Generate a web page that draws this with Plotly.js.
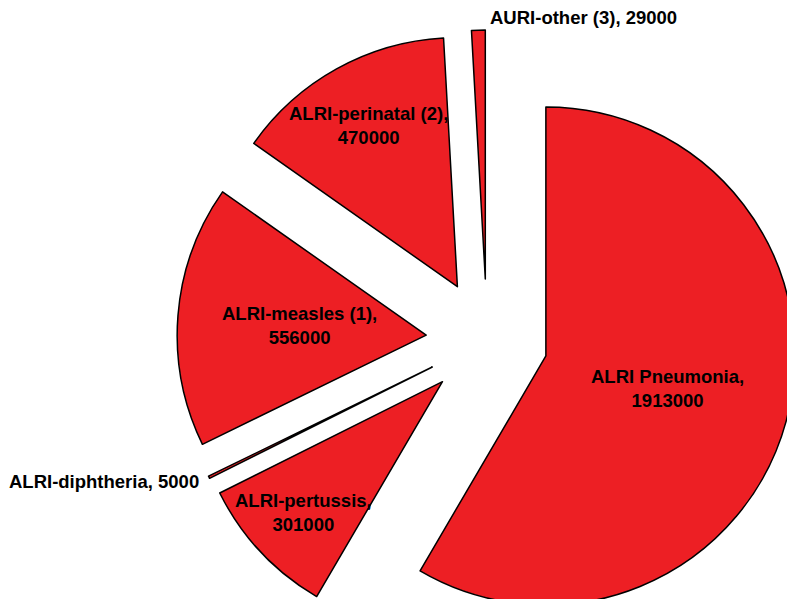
<!DOCTYPE html>
<html>
<head>
<meta charset="utf-8">
<script src="https://cdn.plot.ly/plotly-3.0.1.min.js"></script>
<style>
  html, body { margin: 0; padding: 0; overflow: hidden; background: #fff; width: 787px; height: 599px; }
  #chart { position: absolute; left: 0; top: 0; width: 800px; height: 660px; }
</style>
</head>
<body>
<div id="chart"></div>
<script>
// Data
const labels = ["ALRI Pneumonia", "ALRI-pertussis", "ALRI-diphtheria", "ALRI-measles (1)", "ALRI-perinatal (2)", "AURI-other (3)"];
const values = [1913000, 301000, 5000, 556000, 470000, 29000];
const twoLine = [true, true, false, true, true, false];

// Layout / style constants
const W = 800, H = 660;
const CX = 487, CY = 340;          // pie centre in px (from domain below)
const PULL = 0.245;
const R = 310 / (1 + PULL);        // radius in px
// radial distance of each label from centre (in units of R) and anchoring
const labelDist = [0.75, 1.012, 1.279, 0.754, 0.984, 1.246];
const labelAnchor = [
  { xa: "center", ya: "middle", xs: 0 },
  { xa: "center", ya: "middle", xs: 0 },
  { xa: "right", ya: "middle", xs: 0 },
  { xa: "center", ya: "middle", xs: 0 },
  { xa: "center", ya: "middle", xs: 0 },
  { xa: "left", ya: "bottom", xs: 10 }
];

const total = values.reduce((a, b) => a + b, 0);
const fmt = v => String(v);
let cum = 0;
const annotations = values.map((v, i) => {
  const mid = (cum + v / 2) / total * 2 * Math.PI;
  cum += v;
  const d = labelDist[i] * R;
  const px = CX + d * Math.sin(mid);
  const py = CY - d * Math.cos(mid);
  const a = labelAnchor[i];
  return {
    xref: "paper", yref: "paper",
    x: px / W, y: 1 - py / H,
    xanchor: a.xa, yanchor: a.ya, xshift: a.xs,
    text: labels[i] + "," + (twoLine[i] ? "<br>" : " ") + fmt(v),
    showarrow: false,
    align: "center",
    font: { family: "Liberation Sans, Arial, sans-serif", size: 18.5, color: "#000", weight: "bold" }
  };
});

const trace = {
  type: "pie",
  labels: labels,
  values: values,
  sort: false,
  direction: "clockwise",
  rotation: 0,
  pull: values.map(() => PULL),
  textinfo: "none",
  marker: { colors: values.map(() => "#ED1F24"), line: { color: "#000", width: 1.5 } },
  domain: { x: [(CX - 310) / W, (CX + 310) / W], y: [(H - CY - 310) / H, (H - CY + 310) / H] },
  hoverinfo: "none",
  showlegend: false
};

Plotly.newPlot("chart", [trace], {
  width: W, height: H,
  margin: { l: 0, r: 0, t: 0, b: 0 },
  paper_bgcolor: "#fff",
  showlegend: false,
  annotations: annotations
}, { staticPlot: true });
</script>
</body>
</html>
